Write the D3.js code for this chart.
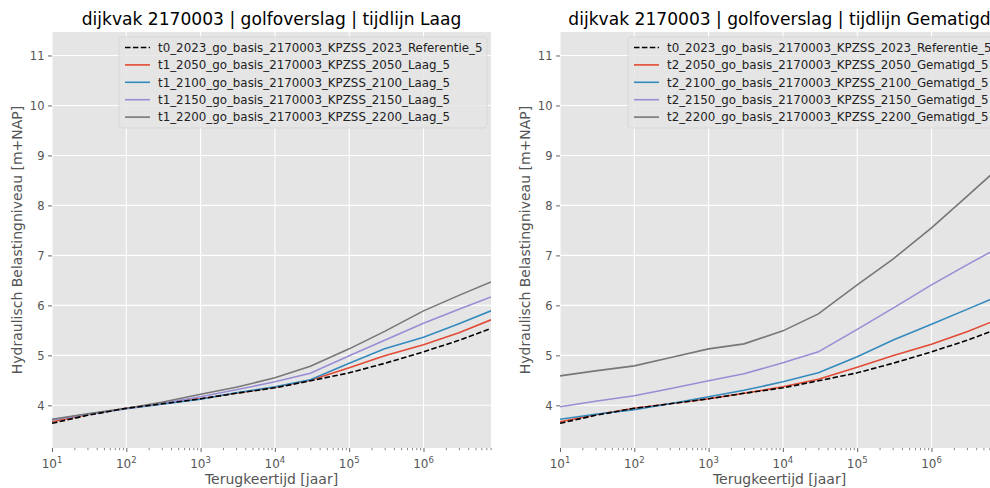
<!DOCTYPE html>
<html><head><meta charset="utf-8">
<script src="https://cdn.jsdelivr.net/npm/d3@7"></script>
<style>
body{margin:0;background:#fff}
svg{display:block;overflow:hidden}
text{font-family:"DejaVu Sans",sans-serif}
</style>
</head><body>
<svg id="c" width="990" height="488"></svg>
<script>
// ---------- data ----------
const returnPeriods = [10, 30, 100, 300, 1000, 3000, 10000, 30000, 100000, 300000, 1000000, 3000000, 8100000];
const ref2023      = [3.64, 3.80, 3.94, 4.03, 4.13, 4.24, 4.35, 4.49, 4.65, 4.84, 5.07, 5.30, 5.54];
const laag2050     = [3.67, 3.81, 3.94, 4.03, 4.13, 4.24, 4.36, 4.50, 4.75, 4.99, 5.21, 5.45, 5.71];
const laag2100     = [3.71, 3.82, 3.93, 4.02, 4.12, 4.25, 4.37, 4.51, 4.84, 5.13, 5.36, 5.63, 5.89];
const laag2150     = [3.71, 3.82, 3.93, 4.04, 4.17, 4.31, 4.47, 4.64, 4.99, 5.30, 5.64, 5.92, 6.17];
const laag2200     = [3.72, 3.83, 3.94, 4.06, 4.22, 4.36, 4.55, 4.78, 5.13, 5.48, 5.89, 6.20, 6.47];
const gematigd2050 = [3.67, 3.81, 3.94, 4.03, 4.13, 4.24, 4.37, 4.52, 4.76, 4.99, 5.22, 5.47, 5.73];
const gematigd2100 = [3.72, 3.82, 3.91, 4.03, 4.17, 4.30, 4.47, 4.65, 4.97, 5.30, 5.62, 5.92, 6.19];
const gematigd2150 = [3.97, 4.08, 4.19, 4.33, 4.49, 4.63, 4.85, 5.07, 5.52, 5.94, 6.41, 6.81, 7.16];
const gematigd2200 = [4.59, 4.69, 4.79, 4.95, 5.13, 5.23, 5.49, 5.83, 6.41, 6.92, 7.55, 8.18, 8.76];

const legendLaag = [
  "t0_2023_go_basis_2170003_KPZSS_2023_Referentie_5",
  "t1_2050_go_basis_2170003_KPZSS_2050_Laag_5",
  "t1_2100_go_basis_2170003_KPZSS_2100_Laag_5",
  "t1_2150_go_basis_2170003_KPZSS_2150_Laag_5",
  "t1_2200_go_basis_2170003_KPZSS_2200_Laag_5"];
const legendGematigd = [
  "t0_2023_go_basis_2170003_KPZSS_2023_Referentie_5",
  "t2_2050_go_basis_2170003_KPZSS_2050_Gematigd_5",
  "t2_2100_go_basis_2170003_KPZSS_2100_Gematigd_5",
  "t2_2150_go_basis_2170003_KPZSS_2150_Gematigd_5",
  "t2_2200_go_basis_2170003_KPZSS_2200_Gematigd_5"];
const titles = ["dijkvak 2170003 | golfoverslag | tijdlijn Laag",
                "dijkvak 2170003 | golfoverslag | tijdlijn Gematigd"];
const seriesColors = ["#000000", "#E24A33", "#348ABD", "#988ED5", "#777777"];
const xMajorTicks = [10, 100, 1000, 10000, 100000, 1000000];
const xTickExponents = ["1", "2", "3", "4", "5", "6"];
const yTicks = [4, 5, 6, 7, 8, 9, 10, 11];
const xDomain = [10, 8.1e6];
const yDomain = [3.146, 11.47];
const xLabel = "Terugkeertijd [jaar]";
const yLabel = "Hydraulisch Belastingniveau [m+NAP]";

// ---------- layout ----------
const svg = d3.select("#c");
const W = 439, H = 416, plotTop = 32;
const panels = [
  {left: 52, title: titles[0], legend: legendLaag, series: [ref2023, laag2050, laag2100, laag2150, laag2200], legX: 119, ylabX: 17},
  {left: 560, title: titles[1], legend: legendGematigd, series: [ref2023, gematigd2050, gematigd2100, gematigd2150, gematigd2200], legX: 628, ylabX: 525}
];

const minorTicks = [];
for (let e = 1; e <= 6; e++) for (let m = 2; m <= 9; m++) {
  const v = m * Math.pow(10, e);
  if (v <= xDomain[1]) minorTicks.push(v);
}

panels.forEach((p, pi) => {
  const x = d3.scaleLog().domain(xDomain).range([0, W]);
  const y = d3.scaleLinear().domain(yDomain).range([H, 0]);
  const g = svg.append("g").attr("transform", `translate(${p.left},${plotTop})`);

  const clipId = "clip" + pi;
  g.append("clipPath").attr("id", clipId).append("rect").attr("width", W).attr("height", H);

  g.append("rect").attr("width", W).attr("height", H).attr("fill", "#E5E5E5");

  // grid
  g.append("g").selectAll("line").data(xMajorTicks).join("line")
    .attr("x1", d => x(d)).attr("x2", d => x(d)).attr("y1", 0).attr("y2", H)
    .attr("stroke", "#fff").attr("stroke-width", 1.1);
  g.append("g").selectAll("line").data(yTicks).join("line")
    .attr("y1", d => y(d)).attr("y2", d => y(d)).attr("x1", 0).attr("x2", W)
    .attr("stroke", "#fff").attr("stroke-width", 1.1);

  // axes
  const xAxis = g.append("g").attr("transform", `translate(0,${H})`)
    .call(d3.axisBottom(x).tickValues(xMajorTicks).tickSize(4).tickFormat(""));
  xAxis.select(".domain").remove();
  xAxis.selectAll(".tick line").attr("stroke", "#555").attr("stroke-width", 0.9);
  const xMinor = g.append("g").attr("transform", `translate(0,${H})`)
    .call(d3.axisBottom(x).tickValues(minorTicks).tickSize(2.2).tickFormat(""));
  xMinor.select(".domain").remove();
  xMinor.selectAll(".tick line").attr("stroke", "#555").attr("stroke-width", 0.7);

  const xl = g.append("g").selectAll("text").data(xMajorTicks).join("text")
    .attr("x", d => x(d)).attr("y", H + 20).attr("text-anchor", "middle")
    .attr("fill", "#555").attr("font-size", 12);
  xl.append("tspan").text("10");
  xl.append("tspan").attr("dy", -5.5).attr("font-size", 8.5).text((d, i) => xTickExponents[i]);

  const yAxis = g.append("g")
    .call(d3.axisLeft(y).tickValues(yTicks).tickSize(4).tickPadding(3.5).tickFormat(d3.format("d")));
  yAxis.select(".domain").remove();
  yAxis.selectAll(".tick line").attr("stroke", "#555").attr("stroke-width", 0.9);
  yAxis.selectAll(".tick text").attr("fill", "#555").attr("font-size", 11.5)
    .attr("font-family", '"DejaVu Sans",sans-serif');

  // lines
  const line = d3.line().x((d, i) => x(returnPeriods[i])).y(d => y(d));
  const lg = g.append("g").attr("clip-path", `url(#${clipId})`);
  [1, 2, 3, 4, 0].forEach(si => {
    lg.append("path").datum(p.series[si]).attr("d", line)
      .attr("fill", "none").attr("stroke", seriesColors[si]).attr("stroke-width", 1.6)
      .attr("stroke-dasharray", si === 0 ? "5.5,2.4" : null);
  });

  // title
  svg.append("text").attr("x", p.left + W / 2).attr("y", 25).attr("text-anchor", "middle")
    .attr("font-size", 17.1).attr("fill", "#000").text(p.title);
  // axis labels
  svg.append("text").attr("x", p.left + W / 2).attr("y", 484).attr("text-anchor", "middle")
    .attr("font-size", 14).attr("fill", "#555").text(xLabel);
  svg.append("text").attr("transform", `translate(${p.ylabX + 5},${plotTop + H / 2}) rotate(-90)`)
    .attr("text-anchor", "middle").attr("font-size", 14).attr("fill", "#555").text(yLabel);

  // legend
  const leg = svg.append("g").attr("transform", `translate(${p.legX},37)`);
  leg.append("rect").attr("width", 368).attr("height", 91).attr("rx", 3)
    .attr("fill", "#E5E5E5").attr("fill-opacity", 0.8).attr("stroke", "#d4d4d4").attr("stroke-width", 0.8);
  p.legend.forEach((t, i) => {
    const yy = 10.5 + i * 17.4;
    leg.append("line").attr("x1", 6).attr("x2", 31).attr("y1", yy).attr("y2", yy)
      .attr("stroke", seriesColors[i]).attr("stroke-width", 1.6)
      .attr("stroke-dasharray", i === 0 ? "5.5,2.4" : null);
    leg.append("text").attr("x", 39).attr("y", yy + 4.3).attr("font-size", 11.85).attr("fill", "#222").text(t);
  });
});
</script>
</body></html>
